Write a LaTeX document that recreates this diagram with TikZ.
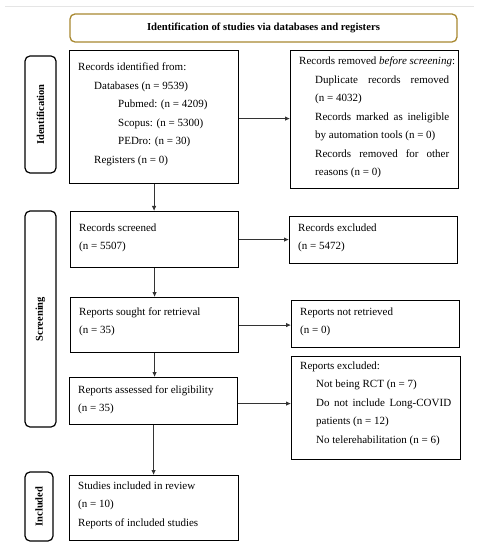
\documentclass[tikz,border=0pt]{standalone}
\usepackage{fontspec}
\setmainfont{Liberation Serif}
\usetikzlibrary{arrows.meta}
\definecolor{gold}{RGB}{168,136,48}
\newcommand\fsz{\fontsize{11bp}{18.5bp}\selectfont}
\newcommand\ind{\hspace*{16bp}}
\newcommand\jus[1]{\makebox[134bp][s]{#1}}
\begin{document}
\begin{tikzpicture}[x=1bp,y=-1bp,
  box/.style={draw=black, line width=1.2bp, inner sep=0, anchor=north west, fill=white},
  side/.style={draw=black, line width=1.2bp, rounded corners=5bp, inner sep=0, rotate=90, font=\fontsize{10.5bp}{12bp}\selectfont\bfseries},
  txt/.style={anchor=base west, inner sep=0, font=\fsz},
  arr/.style={-{Latex[length=5bp,width=4.5bp]}, line width=0.8bp, draw=black!80}]
\useasboundingbox (0,0) rectangle (484,550);
\fill[white] (0,0) rectangle (484,550);
\draw[black!10, line width=1bp] (5,7) -- (474,7);

% header
\node[draw=gold, line width=1.3bp, rounded corners=5bp, minimum width=387bp, minimum height=28bp, inner sep=0,
  font=\fontsize{10.7bp}{12bp}\selectfont\bfseries] (head) at (263.5,28) {Identification of studies via databases and registers};

% side labels
\node[side, minimum width=117bp, minimum height=31bp] (lid) at (40.5,114.5) {Identification};
\node[side, minimum width=216bp, minimum height=31bp] (lsc) at (40.5,319) {Screening};
\node[side, minimum width=69bp, minimum height=28bp] (lin) at (39,506.5) {Included};

% main column boxes
\node[box, minimum width=169bp, minimum height=133bp] (b1) at (69,50) {};
\node[box, minimum width=168bp, minimum height=56bp] (b2) at (70,211) {};
\node[box, minimum width=168bp, minimum height=55bp] (b3) at (70,297) {};
\node[box, minimum width=168bp, minimum height=47bp] (b4) at (69,377) {};
\node[box, minimum width=169bp, minimum height=65bp] (b5) at (69,475) {};

% right column boxes
\node[box, minimum width=168bp, minimum height=138bp] (r1) at (290,50) {};
\node[box, minimum width=168bp, minimum height=47bp] (r2) at (289,216) {};
\node[box, minimum width=168bp, minimum height=47bp] (r3) at (291,300) {};
\node[box, minimum width=169bp, minimum height=103bp] (r4) at (291,356) {};

% texts
\node[txt] (t1) at (78,71) {\parbox[t]{155bp}{Records identified from:\\
\ind Databases (n = 9539)\\
\ind\ind\hspace*{8bp}Pubmed: (n = 4209)\\
\ind\ind\hspace*{8bp}Scopus: (n = 5300)\\
\ind\ind\hspace*{8bp}PEDro: (n = 30)\\
\ind Registers (n = 0)}};

\node[txt] (t2) at (79,231) {\parbox[t]{155bp}{Records screened\\(n = 5507)}};
\node[txt] (t3) at (79,315) {\parbox[t]{155bp}{Reports sought for retrieval\\(n = 35)}};
\node[txt] (t4) at (78,393) {\parbox[t]{155bp}{Reports assessed for eligibility\\(n = 35)}};
\node[txt] (t5) at (78,489) {\parbox[t]{155bp}{Studies included in review\\(n = 10)\\Reports of included studies}};

\node[txt] (s1) at (299,65) {\parbox[t]{158bp}{Records removed \textit{before screening}:\\
\ind\jus{Duplicate records removed}\\
\ind(n = 4032)\\
\ind\jus{Records marked as ineligible}\\
\ind by automation tools (n = 0)\\
\ind\jus{Records removed for other}\\
\ind reasons (n = 0)}};
\node[txt] (s2) at (298,231) {\parbox[t]{155bp}{Records excluded\\(n = 5472)}};
\node[txt] (s3) at (300,315) {\parbox[t]{155bp}{Reports not retrieved\\(n = 0)}};
\node[txt] (s4) at (300,369) {\parbox[t]{158bp}{Reports excluded:\\
\ind Not being RCT (n = 7)\\
\ind\makebox[135bp][s]{Do not include Long-COVID}\\
\ind patients (n = 12)\\
\ind No telerehabilitation (n = 6)}};

% connectors
\draw[arr] (b1.south) -- (b1.south |- b2.north);
\draw[arr] (b2.south) -- (b2.south |- b3.north);
\draw[arr] (b3.south) -- (b3.south |- b4.north);
\draw[arr] (b4.south) -- (b4.south |- b5.north);
\draw[arr] ([yshift=-1.5bp]b1.east) -- ([yshift=-1.5bp]b1.east -| r1.west);
\draw[arr] (b2.east) -- (b2.east -| r2.west);
\draw[arr] (b3.east) -- (b3.east -| r3.west);
\draw[arr] ([yshift=-2.5bp]b4.east) -- ([yshift=-2.5bp]b4.east -| r4.west);
\end{tikzpicture}
\end{document}
